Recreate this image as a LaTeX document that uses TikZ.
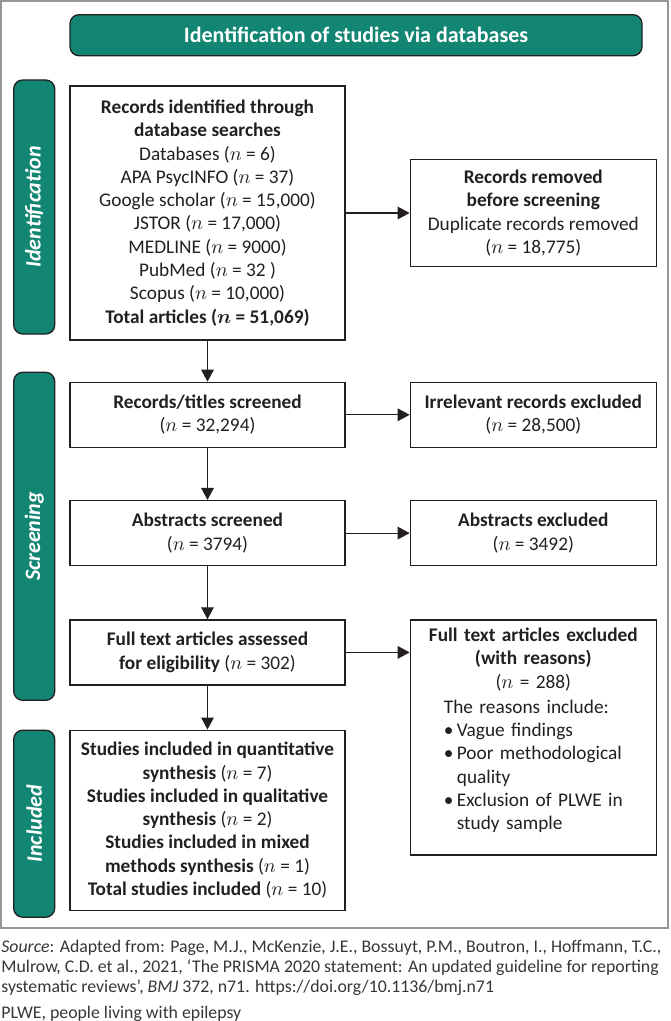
\documentclass[tikz,border=0pt]{standalone}
\usepackage{fontspec}
\setmainfont{Carlito}
\usetikzlibrary{arrows.meta,positioning}
\definecolor{prismateal}{RGB}{18,134,114}
\definecolor{ink}{RGB}{35,31,32}
\definecolor{framegray}{RGB}{150,150,150}
\newcommand{\blt}{\makebox[6.5pt][l]{\textbullet}}
\newcommand{\bind}{\hspace*{6.5pt}}
\tikzset{
  box/.style={rectangle, draw=ink, line width=0.65pt, align=center, text=ink,
              font=\fontsize{9.65}{11.65}\selectfont, inner sep=2pt,
              minimum width=137.5pt, minimum height=32.5pt},
  xbox/.style={box, minimum width=123pt},
  phase/.style={rectangle, rounded corners=4.5pt, draw=ink, line width=0.65pt,
                fill=prismateal, text=white, minimum width=20.5pt, inner sep=0pt,
                font=\fontsize{11}{13}\selectfont\bfseries\itshape},
  banner/.style={rectangle, rounded corners=4.5pt, draw=ink, line width=0.65pt,
                 fill=prismateal, text=white, minimum width=286pt,
                 minimum height=20.5pt, font=\fontsize{11}{13}\selectfont\bfseries},
  arrow/.style={-{Triangle[length=6pt,width=6.3pt]}, line width=0.6pt, draw=ink},
  frame/.style={draw=framegray, line width=0.8pt},
  note/.style={align=left, inner sep=0pt, text=ink!90,
               font=\fontsize{8.9}{10}\selectfont}
}
\begin{document}
\begin{tikzpicture}
  \useasboundingbox (0,0) rectangle (335pt,-510.5pt);
  \draw[frame] (0.5pt,-0.5pt) rectangle (334pt,-464pt);
  \node[box, minimum height=127pt] (recs) at (103.75pt,-106.5pt)
    {\textbf{Records identified through}\\ \textbf{database searches}\\
     Databases ($n$ = 6)\\ APA PsycINFO ($n$ = 37)\\
     Google scholar ($n$ = 15,000)\\ JSTOR ($n$ = 17,000)\\
     MEDLINE ($n$ = 9000)\\ PubMed ($n$ = 32 )\\ Scopus ($n$ = 10,000)\\
     \textbf{Total articles ({\boldmath$n$} = 51,069)}};
  \node[banner, above=14.5pt of recs.north west, anchor=south west] (title)
    {Identification of studies via databases};
  \node[xbox, minimum height=53.5pt, right=32pt of recs] (removed)
    {\textbf{Records removed}\\ \textbf{before screening}\\
     Duplicate records removed\\ ($n$ = 18,775)};
  \node[box, below=20.5pt of recs] (titles)
    {\textbf{Records/titles screened}\\ ($n$ = 32,294)};
  \node[xbox, right=32pt of titles] (irrel)
    {\textbf{Irrelevant records excluded}\\ ($n$ = 28,500)};
  \node[box, below=26pt of titles] (abstracts)
    {\textbf{Abstracts screened}\\ ($n$ = 3794)};
  \node[xbox, right=32pt of abstracts] (absexcl)
    {\textbf{Abstracts excluded}\\ ($n$ = 3492)};
  \node[box, below=26.5pt of abstracts] (fulltext)
    {\textbf{Full text articles assessed}\\ \textbf{for eligibility} ($n$ = 302)};
  \node[xbox, minimum height=117.5pt, text width=115pt,
        right=32pt of fulltext.north east, anchor=north west] (ftexcl)
    {\textbf{Full text articles excluded}\\ \textbf{(with reasons)}\\
     ($n$ = 288)\par\vspace{2pt}
     \begin{tabular}{@{}l@{}}
       The reasons include:\\
       \blt Vague findings\\
       \blt Poor methodological\\
       \bind quality\\
       \blt Exclusion of PLWE in\\
       \bind study sample
     \end{tabular}\par\vspace{5pt}};
  \node[box, minimum height=90pt, below=22pt of fulltext] (studies)
    {\textbf{Studies included in quantitative}\\ \textbf{synthesis} ($n$ = 7)\\
     \textbf{Studies included in qualitative}\\ \textbf{synthesis} ($n$ = 2)\\
     \textbf{Studies included in mixed}\\ \textbf{methods synthesis} ($n$ = 1)\\
     \textbf{Total studies included} ($n$ = 10)};
  \node[phase, minimum height=127pt, left=7pt of recs.north west,
        anchor=north east, yshift=3pt] (idbar) {\rotatebox{90}{Identification}};
  \node[phase, minimum height=164pt, left=7pt of titles.north west,
        anchor=north east, yshift=5pt] (scrbar) {\rotatebox{90}{Screening}};
  \node[phase, minimum height=93.5pt, left=7pt of studies.north west,
        anchor=north east] (incbar) {\rotatebox{90}{Included}};
  \draw[arrow] (recs.east) -- (recs.east -| removed.west);
  \draw[arrow] (recs) -- (titles);
  \draw[arrow] (titles) -- (irrel);
  \draw[arrow] (titles) -- (abstracts);
  \draw[arrow] (abstracts) -- (absexcl);
  \draw[arrow] (abstracts) -- (fulltext);
  \draw[arrow] (fulltext.east) -- (fulltext.east -| ftexcl.west);
  \draw[arrow] (fulltext) -- (studies);
  \node[note, anchor=north west] (source) at (0.5pt,-470pt)
    {\textit{Source}: Adapted from: Page, M.J., McKenzie, J.E., Bossuyt, P.M., Boutron, I., Hoffmann, T.C.,\\
     Mulrow, C.D. et al., 2021, ‘The PRISMA 2020 statement: An updated guideline for reporting\\
     systematic reviews’, \textit{BMJ} 372, n71. https://doi.org/10.1136/bmj.n71};
  \node[note, below=5pt of source.south west, anchor=north west] (abbr)
    {PLWE, people living with epilepsy};
\end{tikzpicture}
\end{document}
